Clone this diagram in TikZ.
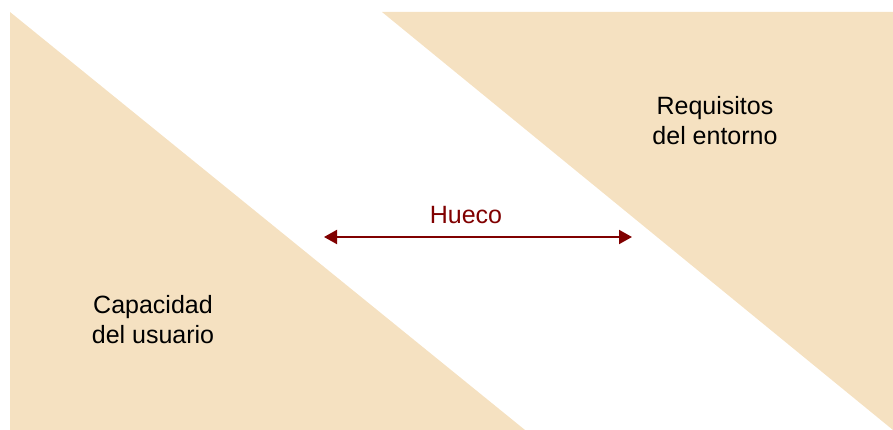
\documentclass[tikz,border=0pt]{standalone}
\usepackage{fontspec}
\setmainfont{Liberation Sans}
\usetikzlibrary{arrows.meta}

\definecolor{sand}{RGB}{245,225,193}
\definecolor{gapred}{RGB}{128,0,0}

\tikzset{
  zone/.style={fill=sand, draw=none},
  zonetext/.style={align=center, font=\fontsize{25}{30}\selectfont},
  gaparrow/.style={draw=gapred, line width=2pt, {Triangle[length=13pt,width=14pt]}-{Triangle[length=13pt,width=14pt]}}
}

\begin{document}
\begin{tikzpicture}[x=1pt, y=-1pt]

  \useasboundingbox (0,0) rectangle (893,430);

  % --- Two facing wedges ---
  \fill[zone] (10,12) -- (10,430) -- (525,430) -- cycle;
  \fill[zone] (382,12) -- (893,12) -- (893,430) -- cycle;

  % --- Labels inside the wedges ---
  \node[zonetext] (capacidad) at (153,320) {Capacidad\\del usuario};
  \node[zonetext] (requisitos) at (715,121) {Requisitos\\del entorno};

  % --- Gap between them ---
  \coordinate (gapL) at (324,237);
  \coordinate (gapR) at (632,237);
  \draw[gaparrow] (gapL) -- (gapR);
  \node[zonetext, text=gapred, anchor=base] (hueco) at (466,224) {Hueco};

\end{tikzpicture}
\end{document}
